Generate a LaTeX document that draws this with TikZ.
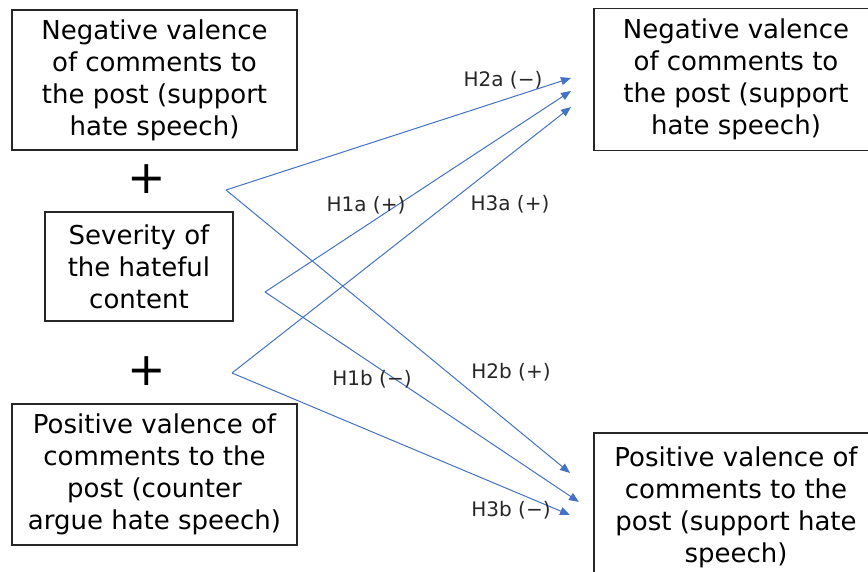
\documentclass[tikz,border=0pt]{standalone}
\usepackage{fontspec}
\setmainfont{DejaVu Sans}
\usepackage{xcolor}
\usetikzlibrary{
  	arrows.meta,
  	positioning,
  	calc
  }
\definecolor{hypblue}{RGB}{68,114,196}
\tikzstyle{varbox}=[draw=black!85,line width=1.2pt,align=center,inner sep=0pt,font=\fontsize{26}{32}\selectfont]
\tikzstyle{hyp}=[draw=hypblue,line width=1pt,-{Triangle[length=10pt,width=8pt]}]
\tikzstyle{hlabel}=[font=\fontsize{20}{22}\selectfont,text=black!85,inner sep=0pt]
\tikzstyle{plus}=[font=\fontsize{46}{46}\selectfont,inner sep=0pt]

\begin{document}
\begin{tikzpicture}[x=1pt,y=-1pt]
    \useasboundingbox (0,0) rectangle (868,571);
    \clip (0,0) rectangle (868,571);
    \node[varbox,minimum width=285pt,minimum height=140pt] (negin) at (154.5,80)
       {Negative valence\\of comments to\\the post (support\\hate speech)};
    \node[varbox,minimum width=188pt,minimum height=109pt] (sev) at (139,266.5)
       {Severity of\\the hateful\\content};
    \node[varbox,minimum width=285pt,minimum height=141pt] (posin) at (154.5,474.5)
       {Positive valence of\\comments to the\\post (counter\\argue hate speech)};
    \node[plus] (p1) at (147,179) {+};
    \node[plus] (p2) at (147,371) {+};
    \node[varbox,minimum width=284pt,minimum height=142pt] (negout) at (736,79.5)
       {Negative valence\\of comments to\\the post (support\\hate speech)};
    \node[varbox,minimum width=284pt,minimum height=148pt] (posout) at (736,507)
       {Positive valence of\\comments to the\\post (support hate\\speech)};
    \coordinate (negsrc) at (226,190);
    \coordinate (sevsrc) at (265,292);
    \coordinate (possrc) at (232,373);
    \coordinate (h2a) at (571,78);
    \coordinate (h1a) at (571,91);
    \coordinate (h3a) at (571,107);
    \coordinate (h2b) at (570,473);
    \coordinate (h1b) at (579,502);
    \coordinate (h3b) at (570,515);
    \draw[hyp] (negsrc) -- (h2a);
    \draw[hyp] (negsrc) -- (h2b);
    \draw[hyp] (sevsrc) -- (h1a);
    \draw[hyp] (sevsrc) -- (h1b);
    \draw[hyp] (possrc) -- (h3a);
    \draw[hyp] (possrc) -- (h3b);
    \node[hlabel] (l2a) at (503,80) {H2a (−)};
    \node[hlabel] (l1a) at (366,205) {H1a (+)};
    \node[hlabel] (l3a) at (510,204) {H3a (+)};
    \node[hlabel] (l1b) at (372,379) {H1b (−)};
    \node[hlabel] (l2b) at (511,372) {H2b (+)};
    \node[hlabel] (l3b) at (511,510) {H3b (−)};
\end{tikzpicture}
\end{document}
